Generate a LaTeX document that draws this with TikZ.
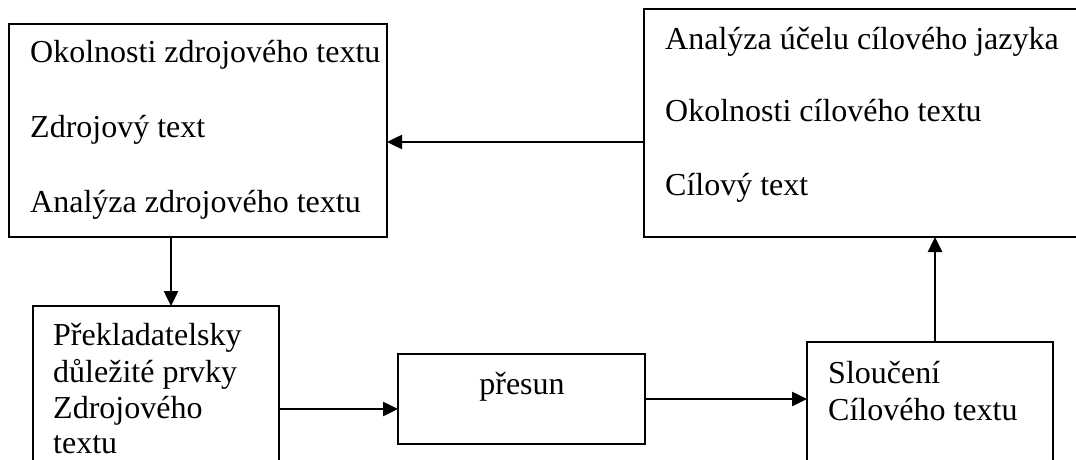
\documentclass[tikz,border=0pt]{standalone}
\usepackage{fontspec}
\setmainfont{Liberation Serif}
\usetikzlibrary{arrows.meta}
\begin{document}
\begin{tikzpicture}[x=1pt,y=-1pt,
  box/.style={draw=black,line width=2pt,inner sep=0pt,outer sep=0pt,rectangle},
  txt/.style={anchor=base west,inner sep=0pt,font=\fontsize{32}{38}\selectfont},
  arr/.style={line width=2.5pt,-{Triangle[length=15pt,width=14pt]}}]
\useasboundingbox[fill=white] (0,0) rectangle (1076,460);
% boxes
\node[box,minimum width=378.5pt,minimum height=213pt] (b1) at (197.75,130.5) {};
\node[box,minimum width=436pt,minimum height=227.5pt] (b2) at (862,123.25) {};
\node[box,minimum width=246pt,minimum height=164pt] (b3) at (156,388) {};
\node[box,minimum width=247pt,minimum height=90pt] (b4) at (521.5,399) {};
\node[box,minimum width=246pt,minimum height=128pt] (b5) at (930,406) {};
% texts box 1
\node[txt] (t11) at (30,63) {Okolnosti zdrojového textu};
\node[txt] (t12) at (30,137) {Zdrojový text};
\node[txt] (t13) at (30,212) {Analýza zdrojového textu};
% texts box 2
\node[txt] (t21) at (665,49) {Analýza účelu cílového jazyka};
\node[txt] (t22) at (665,121) {Okolnosti cílového textu};
\node[txt] (t23) at (665,195) {Cílový text};
% texts box 3
\node[txt] (t31) at (53,345) {Překladatelsky};
\node[txt] (t32) at (53,382) {důležité prvky};
\node[txt] (t33) at (53,418) {Zdrojového};
\node[txt] (t34) at (53,453) {textu};
% text box 4
\node[txt,anchor=base] (t41) at (522,394) {přesun};
% texts box 5
\node[txt] (t51) at (828,383) {Sloučení};
\node[txt] (t52) at (828,420) {Cílového textu};
% connectors
\coordinate (c1) at (171,0);
\coordinate (c2) at (0,142);
\coordinate (c3) at (0,409);
\coordinate (c5) at (935,0);
\draw[arr] (b1.south -| c1) -- (b3.north -| c1);
\draw[arr] (b2.west |- c2) -- (b1.east |- c2);
\draw[arr] (b3.east |- c3) -- (b4.west |- c3);
\draw[arr] (b4.east) -- (b4.east -| b5.west);
\draw[arr] (b5.north -| c5) -- (b2.south -| c5);
\end{tikzpicture}
\end{document}
